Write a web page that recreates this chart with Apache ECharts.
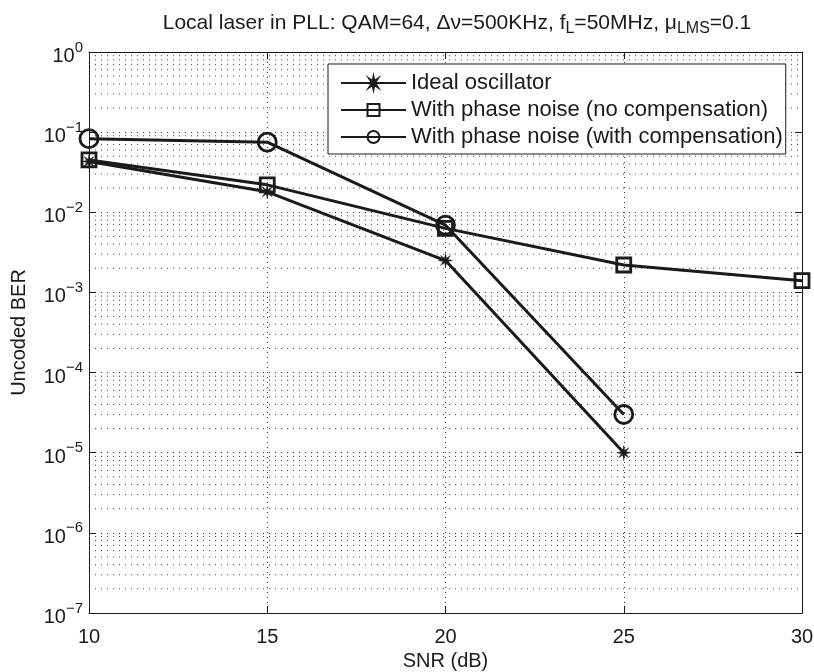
<!DOCTYPE html>
<html><head><meta charset="utf-8">
<script src="https://cdn.jsdelivr.net/npm/echarts@6/dist/echarts.min.js"></script>
<style>html,body{margin:0;padding:0;background:#fff}#c{width:814px;height:672px}</style>
</head><body><div id="c"></div>
<script>
// ---- data ----
const snrIdeal = [10, 15, 20, 25];
const idealBER = [0.043, 0.018, 0.0025, 1.0e-5];
const snrNoComp = [10, 15, 20, 25, 30];
const noCompBER = [0.045, 0.022, 0.0063, 0.0022, 0.0014];
const snrComp = [10, 15, 20, 25];
const compBER = [0.083, 0.075, 0.0069, 3.0e-5];
const xTicks = [10, 15, 20, 25, 30];
const xRange = [10, 30];
const seriesNames = ['Ideal oscillator', 'With phase noise (no compensation)', 'With phase noise (with compensation)'];

// minor grid values (2..9 x 10^k)
const minorVals = [];
for (let k = -7; k < 0; k++) for (let m = 2; m <= 9; m++) minorVals.push(m * Math.pow(10, k));

// asterisk-like symbol path
function starPath(n, ro, ri) {
  let p = '';
  for (let i = 0; i < 2 * n; i++) {
    const r = i % 2 === 0 ? ro : ri;
    const a = Math.PI * i / n - Math.PI / 2;
    p += (i === 0 ? 'M' : 'L') + (r * Math.cos(a) + 10).toFixed(2) + ',' + (r * Math.sin(a) + 10).toFixed(2);
  }
  return 'path://' + p + 'Z';
}
const asterisk = starPath(8, 10, 3.5);

const FONT = '"Liberation Sans", Arial, Helvetica, sans-serif';
const INK = '#1a1a1a';

const chart = echarts.init(document.getElementById('c'), null, {renderer: 'canvas'});

const supRich = {
  b: {fontSize: 20, fontFamily: FONT, color: INK, padding: [9, 0, 0, 0]},
  s: {fontSize: 15, fontFamily: FONT, color: INK, padding: [0, 0, 9, 0]}
};

function mkLine(name, xs, ys, symbol, size, extra) {
  return Object.assign({
    name: name,
    type: 'line',
    data: xs.map((x, i) => [x, ys[i]]),
    symbol: symbol,
    symbolSize: size,
    showSymbol: true,
    lineStyle: {color: INK, width: 3},
    itemStyle: {color: 'rgba(0,0,0,0)', borderColor: INK, borderWidth: 2.8},
    emphasis: {disabled: true},
    animation: false,
    z: 5
  }, extra || {});
}

const gridSeries = minorVals.map(v => ({
  type: 'line',
  data: [[xRange[0], v], [xRange[1], v]],
  symbol: 'none',
  silent: true,
  lineStyle: {color: '#444', type: [1, 5], width: 1},
  emphasis: {disabled: true},
  animation: false,
  z: 1
}));

const option = {
  animation: false,
  backgroundColor: '#fff',
  title: {
    text: 'Local laser in PLL: QAM=64, Δν=500KHz, f{sub|L}=50MHz, μ{sub|LMS}=0.1',
    left: 452, top: 4, textAlign: 'center',
    textStyle: {
      fontSize: 21, fontWeight: 'normal', fontFamily: FONT, color: INK,
      rich: {sub: {fontSize: 16, fontFamily: FONT, color: INK, padding: [12, 0, 0, 0]}}
    }
  },
  grid: {left: 89, right: 12, top: 52, bottom: 59, containLabel: false, outerBoundsMode: 'none'},
  legend: {
    left: 328, top: 64,
    orient: 'vertical',
    data: seriesNames,
    itemWidth: 65, itemHeight: 15, itemGap: 5,
    backgroundColor: '#fff',
    borderColor: INK, borderWidth: 1, borderRadius: 0,
    padding: [8, 3, 6, 12],
    textStyle: {fontSize: 22, fontFamily: FONT, color: INK},
    selectedMode: false
  },
  xAxis: [{
    type: 'value', min: 10, max: 30, interval: 5,
    name: 'SNR (dB)', nameLocation: 'middle', nameGap: 37,
    nameTextStyle: {fontSize: 20, fontFamily: FONT, color: INK},
    axisLine: {show: true, onZero: false, lineStyle: {color: INK, width: 1}},
    axisTick: {show: true, inside: true, length: 7, lineStyle: {color: INK}},
    axisLabel: {fontSize: 20, fontFamily: FONT, color: INK, margin: 14, customValues: xTicks},
    splitLine: {show: true, lineStyle: {color: '#333', type: [1, 4], width: 1}}
  }, {
    type: 'value', min: 10, max: 30, interval: 5, position: 'top',
    axisLine: {show: true, onZero: false, lineStyle: {color: INK, width: 1}},
    axisTick: {show: true, inside: true, length: 7, lineStyle: {color: INK}},
    axisLabel: {show: false}, splitLine: {show: false}
  }],
  yAxis: [{
    type: 'log', logBase: 10, min: 1e-7, max: 1,
    name: 'Uncoded BER', nameLocation: 'middle', nameGap: 60,
    nameTextStyle: {fontSize: 20, fontFamily: FONT, color: INK},
    axisLine: {show: true, onZero: false, lineStyle: {color: INK, width: 1}},
    axisTick: {show: true, inside: true, length: 7, lineStyle: {color: INK}},
    axisLabel: {
      margin: 6, rich: supRich,
      formatter: function (v) {
        const e = Math.round(Math.log10(v));
        return '{b|10}{s|' + (e < 0 ? '\u2212' + (-e) : e) + '}';
      }
    },
    splitLine: {show: true, lineStyle: {color: '#333', type: [1, 5], width: 1}}
  }, {
    type: 'log', logBase: 10, min: 1e-7, max: 1, position: 'right',
    axisLine: {show: true, onZero: false, lineStyle: {color: INK, width: 1}},
    axisTick: {show: true, inside: true, length: 7, lineStyle: {color: INK}},
    axisLabel: {show: false}, splitLine: {show: false}
  }],
  series: [
    mkLine(seriesNames[0], snrIdeal, idealBER, asterisk, 14, {
      itemStyle: {color: INK, borderColor: INK, borderWidth: 0.5}
    }),
    mkLine(seriesNames[1], snrNoComp, noCompBER, 'rect', 14),
    mkLine(seriesNames[2], snrComp, compBER, 'circle', 18)
  ].concat(gridSeries)
};
chart.setOption(option);
</script></body></html>
